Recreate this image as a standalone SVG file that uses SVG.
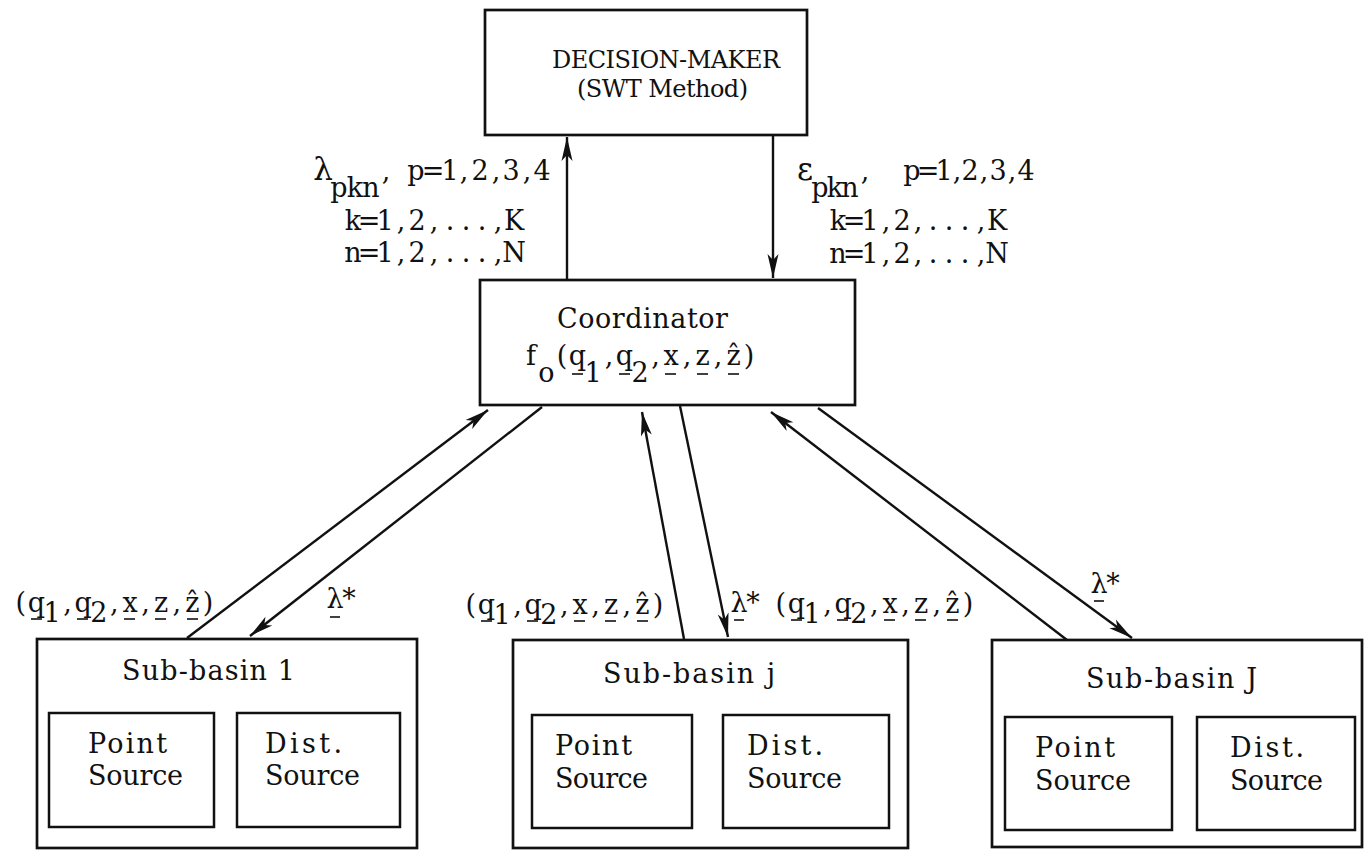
<svg xmlns="http://www.w3.org/2000/svg" width="1364" height="850" viewBox="0 0 1364 850">
  <style>
    .box { fill: none; stroke: #111; stroke-width: 2.7; }
    .inner { fill: none; stroke: #111; stroke-width: 2.5; }
    .t { font-family: "DejaVu Serif", "Liberation Serif", serif; font-size: 27px; fill: #111; }
    .title { font-size: 24px; }
    .greek { font-size: 31px; }
    .m { text-anchor: middle; }
    .conn { stroke: #111; stroke-width: 2.4; fill: none; }
    .ul { stroke: #111; stroke-width: 1.6; }
  </style>
  <defs>
    <marker id="arrow" markerUnits="userSpaceOnUse" markerWidth="30" markerHeight="16" viewBox="-26 -8 28 16" refX="0" refY="0" orient="auto">
      <path d="M0,0 L-24,-5.5 L-18,0 L-24,5.5 Z" fill="#111"/>
    </marker>
  </defs>
  <rect width="1364" height="850" fill="#fff"/>

  <!-- connectors -->
  <g id="connectors">
    <line class="conn" x1="567" y1="280" x2="567" y2="137" marker-end="url(#arrow)"/>
    <line class="conn" x1="773" y1="135" x2="773" y2="278" marker-end="url(#arrow)"/>
    <line class="conn" x1="187" y1="638" x2="488" y2="410" marker-end="url(#arrow)"/>
    <line class="conn" x1="542" y1="407" x2="250" y2="636" marker-end="url(#arrow)"/>
    <line class="conn" x1="684" y1="639" x2="642" y2="412" marker-end="url(#arrow)"/>
    <line class="conn" x1="680" y1="406" x2="728" y2="637" marker-end="url(#arrow)"/>
    <line class="conn" x1="1067" y1="640" x2="771" y2="412" marker-end="url(#arrow)"/>
    <line class="conn" x1="818" y1="408" x2="1132" y2="638" marker-end="url(#arrow)"/>
  </g>

  <!-- connector labels, set glyph by glyph at a fixed pitch -->
  <g id="labels">
    <!-- lambda_pkn -->
    <text class="t m" y="180"><tspan class="greek" x="323">λ</tspan><tspan x="339 355 371" dy="17">pkn</tspan><tspan x="386" dy="-17">,</tspan><tspan x="416 433 450 464 480 496 511 527 542">p=1,2,3,4</tspan></text>
    <text class="t m" y="230" x="353 369 385 401 417 434 450 466 482 498 514">k=1,2,...,K</text>
    <text class="t m" y="262" x="353 369 385 401 417 434 450 466 482 498 514">n=1,2,...,N</text>
    <!-- epsilon_pkn -->
    <text class="t m" y="180"><tspan class="greek" x="805">ε</tspan><tspan x="820 835 850" dy="17">pkn</tspan><tspan x="865" dy="-17">,</tspan><tspan x="912 928 944 957 970 984 998 1012 1026">p=1,2,3,4</tspan></text>
    <text class="t m" y="230" x="838 854 870 886 902 918 933 949 965 981 997">k=1,2,...,K</text>
    <text class="t m" y="263" x="838 854 870 886 902 918 933 949 965 981 997">n=1,2,...,N</text>

    <!-- upward vectors -->
    <text class="t m" y="612"><tspan x="20.8 36.4">(q</tspan><tspan x="52" dy="10">1</tspan><tspan x="67.6 83.2" dy="-10">,q</tspan><tspan x="98.8" dy="10">2</tspan><tspan x="114.4 130 145.6 161.2 176.8 192.4 208" dy="-10">,x,z,ẑ)</tspan></text>
    <g class="ul">
      <line x1="31" y1="619" x2="42" y2="619"/><line x1="77" y1="619" x2="88" y2="619"/>
      <line x1="124" y1="619" x2="135" y2="619"/><line x1="155" y1="619" x2="166" y2="619"/>
      <line x1="187" y1="619" x2="198" y2="619"/>
    </g>
    <text class="t m" y="614"><tspan x="470.8 486.4">(q</tspan><tspan x="502" dy="10">1</tspan><tspan x="517.6 533.2" dy="-10">,q</tspan><tspan x="548.8" dy="10">2</tspan><tspan x="564.4 580 595.6 611.2 626.8 642.4 658" dy="-10">,x,z,ẑ)</tspan></text>
    <g class="ul">
      <line x1="481" y1="621" x2="492" y2="621"/><line x1="527" y1="621" x2="538" y2="621"/>
      <line x1="574" y1="621" x2="585" y2="621"/><line x1="605" y1="621" x2="616" y2="621"/>
      <line x1="637" y1="621" x2="648" y2="621"/>
    </g>
    <text class="t m" y="613"><tspan x="780.8 796.4">(q</tspan><tspan x="812" dy="10">1</tspan><tspan x="827.6 843.2" dy="-10">,q</tspan><tspan x="858.8" dy="10">2</tspan><tspan x="874.4 890 905.6 921.2 936.8 952.4 968" dy="-10">,x,z,ẑ)</tspan></text>
    <g class="ul">
      <line x1="791" y1="620" x2="802" y2="620"/><line x1="837" y1="620" x2="848" y2="620"/>
      <line x1="884" y1="620" x2="895" y2="620"/><line x1="915" y1="620" x2="926" y2="620"/>
      <line x1="947" y1="620" x2="958" y2="620"/>
    </g>

    <!-- downward multipliers -->
    <text class="t m" y="608" x="335 349">λ*</text>
    <line class="ul" x1="330" y1="617" x2="340" y2="617"/>
    <text class="t m" y="612" x="739 753">λ*</text>
    <line class="ul" x1="734" y1="620" x2="744" y2="620"/>
    <text class="t m" y="593" x="1099 1113">λ*</text>
    <line class="ul" x1="1094" y1="601" x2="1104" y2="601"/>
  </g>

  <!-- decision maker -->
  <g id="decision-maker">
    <rect class="box" x="485" y="10" width="322" height="125"/>
    <text class="t title" x="552" y="68" textLength="228" lengthAdjust="spacing">DECISION-MAKER</text>
    <text class="t title" x="577" y="97" textLength="171" lengthAdjust="spacing">(SWT Method)</text>
  </g>

  <!-- coordinator -->
  <g id="coordinator">
    <rect class="box" x="480" y="280" width="375" height="125"/>
    <text class="t" x="557" y="328" textLength="171" lengthAdjust="spacing">Coordinator</text>
    <text class="t m" y="365"><tspan x="531">f</tspan><tspan x="546.5" dy="17">o</tspan><tspan x="562 577.5" dy="-17">(q</tspan><tspan x="593" dy="17">1</tspan><tspan x="609 624.5" dy="-17">,q</tspan><tspan x="640" dy="17">2</tspan><tspan x="655.5 671 687 702.5 718 733.5 749" dy="-17">,x,z,ẑ)</tspan></text>
    <g class="ul">
      <line x1="572" y1="374" x2="583" y2="374"/><line x1="619" y1="374" x2="630" y2="374"/>
      <line x1="665" y1="374" x2="676" y2="374"/><line x1="697" y1="374" x2="708" y2="374"/>
      <line x1="728" y1="374" x2="739" y2="374"/>
    </g>
  </g>

  <!-- sub-basin 1 -->
  <g id="sub-basin-1">
    <rect class="box" x="37" y="639" width="380" height="209"/>
    <text class="t" x="122" y="680" textLength="173" lengthAdjust="spacing">Sub-basin 1</text>
    <rect class="inner" x="49" y="713" width="165" height="114"/>
    <text class="t" x="88" y="753" textLength="79" lengthAdjust="spacing">Point</text>
    <text class="t" x="88" y="785" textLength="95" lengthAdjust="spacing">Source</text>
    <rect class="inner" x="237" y="713" width="163" height="114"/>
    <text class="t" x="265" y="753" textLength="77" lengthAdjust="spacing">Dist.</text>
    <text class="t" x="265" y="785" textLength="95" lengthAdjust="spacing">Source</text>
  </g>

  <!-- sub-basin j -->
  <g id="sub-basin-j">
    <rect class="box" x="513" y="640" width="395" height="208"/>
    <text class="t" x="603" y="683" textLength="172" lengthAdjust="spacing">Sub-basin j</text>
    <rect class="inner" x="532" y="715" width="160" height="113"/>
    <text class="t" x="555" y="755" textLength="77" lengthAdjust="spacing">Point</text>
    <text class="t" x="555" y="788" textLength="93" lengthAdjust="spacing">Source</text>
    <rect class="inner" x="723" y="715" width="166" height="113"/>
    <text class="t" x="747" y="755" textLength="76" lengthAdjust="spacing">Dist.</text>
    <text class="t" x="747" y="788" textLength="95" lengthAdjust="spacing">Source</text>
  </g>

  <!-- sub-basin J -->
  <g id="sub-basin-J">
    <rect class="box" x="992" y="640" width="370" height="207"/>
    <text class="t" x="1086" y="688" textLength="171" lengthAdjust="spacing">Sub-basin J</text>
    <rect class="inner" x="1005" y="717" width="167" height="113"/>
    <text class="t" x="1035" y="757" textLength="80" lengthAdjust="spacing">Point</text>
    <text class="t" x="1035" y="790" textLength="96" lengthAdjust="spacing">Source</text>
    <rect class="inner" x="1197" y="717" width="158" height="113"/>
    <text class="t" x="1230" y="757" textLength="74" lengthAdjust="spacing">Dist.</text>
    <text class="t" x="1230" y="790" textLength="93" lengthAdjust="spacing">Source</text>
  </g>
</svg>
